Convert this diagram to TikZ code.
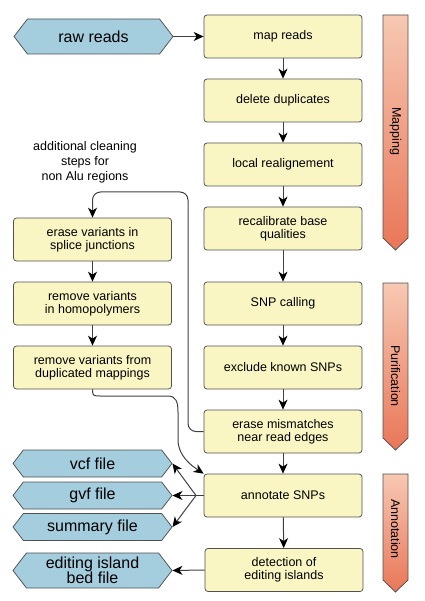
\documentclass[tikz,border=0pt]{standalone}
\usepackage{fontspec}
\setmainfont{Liberation Sans}
\usetikzlibrary{shapes.symbols,arrows.meta}

\definecolor{boxyellow}{RGB}{250,246,196}
\definecolor{fileblue}{RGB}{164,205,222}
\definecolor{edgegray}{RGB}{80,80,80}
\definecolor{bartop}{RGB}{247,200,178}
\definecolor{barbottom}{RGB}{233,118,88}

\tikzset{every picture/.style={line width=0.75pt}}
\tikzset{
  stepbox/.style={draw=edgegray, fill=boxyellow, rounded corners=3pt, minimum width=158pt, minimum height=43pt,
    inner sep=1pt, align=center, font=\fontsize{12.5}{13}\selectfont},
  filehex/.style={signal, signal to=west and east, signal pointer angle=105, draw=edgegray, fill=fileblue,
    minimum width=159pt, minimum height=27pt, inner sep=1pt, align=center, font=\fontsize{16}{15}\selectfont},
  flow/.style={draw=black!75, line width=1pt, -{Stealth[length=10pt,width=9pt,inset=3pt,color=black]}},
  phasebar/.style={draw=edgegray, line width=0.75pt, top color=bartop, bottom color=barbottom},
  phaselabel/.style={rotate=-90, font=\fontsize{12.5}{13}\selectfont}
}

\begin{document}
\begin{tikzpicture}[x=1pt,y=1pt,yscale=-1,xscale=1]
\useasboundingbox (0,0) rectangle (424,601);

%Main pipeline
\node [stepbox] (map) at (283,36.5) {map reads};
\node [stepbox] (dedup) at (283,100.5) {delete duplicates};
\node [stepbox] (realign) at (283,164.5) {local realignement};
\node [stepbox] (recal) at (283,228.5) {recalibrate base\\qualities};
\node [stepbox] (snpcall) at (283,303.5) {SNP calling};
\node [stepbox] (known) at (283,367.5) {exclude known SNPs};
\node [stepbox] (edges) at (283,431.5) {erase mismatches\\near read edges};
\node [stepbox] (annot) at (283,495.5) {annotate SNPs};
\node [stepbox] (islands) at (284,570) {detection of\\editing islands};

%Cleaning steps
\node [stepbox] (splice) at (92.5,239.5) {erase variants in\\splice junctions};
\node [stepbox] (homo) at (92.5,303.5) {remove variants\\in homopolymers};
\node [stepbox] (dupmap) at (92.5,367.5) {remove variants from\\duplicated mappings};

%Input and output files
\node [filehex, minimum height=35pt] (raw) at (93.5,36.5) {raw reads};
\node [filehex] (vcf) at (92.5,463.5) {vcf file};
\node [filehex] (gvf) at (92.5,495.5) {gvf file};
\node [filehex] (summary) at (92.5,527) {summary file};
\node [filehex, minimum height=35pt] (bedfile) at (92.5,570.5) {editing island\\bed file};

% Text Node
\node [align=center, font=\fontsize{12.5}{15}\selectfont] (note) at (85,162) {additional cleaning\\steps for\\non Alu regions};

%Phase bars
\shadedraw [phasebar] (383,15) -- (408,15) -- (408,238) -- (395.5,250) -- (383,238) -- cycle;
\node [phaselabel] (mapping) at (395.5,131) {Mapping};
\shadedraw [phasebar] (383,283) -- (408,283) -- (408,438) -- (395.5,450) -- (383,438) -- cycle;
\node [phaselabel] (purif) at (395.5,376) {Purification};
\shadedraw [phasebar] (383,474) -- (408,474) -- (408,580) -- (395.5,592) -- (383,580) -- cycle;
\node [phaselabel] (annotation) at (395.5,529) {Annotation};

%Straight Lines
\draw [flow] (raw.east) -- (map.west);
\draw [flow] (map) -- (dedup);
\draw [flow] (dedup) -- (realign);
\draw [flow] (realign) -- (recal);
\draw [flow] (recal) -- (snpcall);
\draw [flow] (snpcall) -- (known);
\draw [flow] (known) -- (edges);
\draw [flow] (edges) -- (annot);
\draw [flow] (annot) -- (islands);
\draw [flow] (islands.west) -- (bedfile.east);
\draw [flow] (splice) -- (homo);
\draw [flow] (homo) -- (dupmap);

%Loop back to the cleaning steps
\coordinate (loopcorner) at (188,192);
\draw [flow, rounded corners=8pt] (edges.west) -| (loopcorner) -| (splice.north);

%Curve Lines
\draw [flow] (dupmap.south) -- (92.5,390) .. controls (92.5,396) and (94,396) .. (100,396) -- (168,396)
  .. controls (176,396) and (178,402) .. (178,412) -- (178,440) .. controls (178,456) and (192,466) .. (annot.north west);

%Fan out to the output files
\coordinate (fan) at (196,495.5);
\draw [draw=black!75, line width=1pt] (annot.west) -- (fan);
\draw [flow] (fan) -- (vcf.east);
\draw [flow] (fan) -- (gvf.east);
\draw [flow] (fan) -- (summary.east);

\end{tikzpicture}
\end{document}
